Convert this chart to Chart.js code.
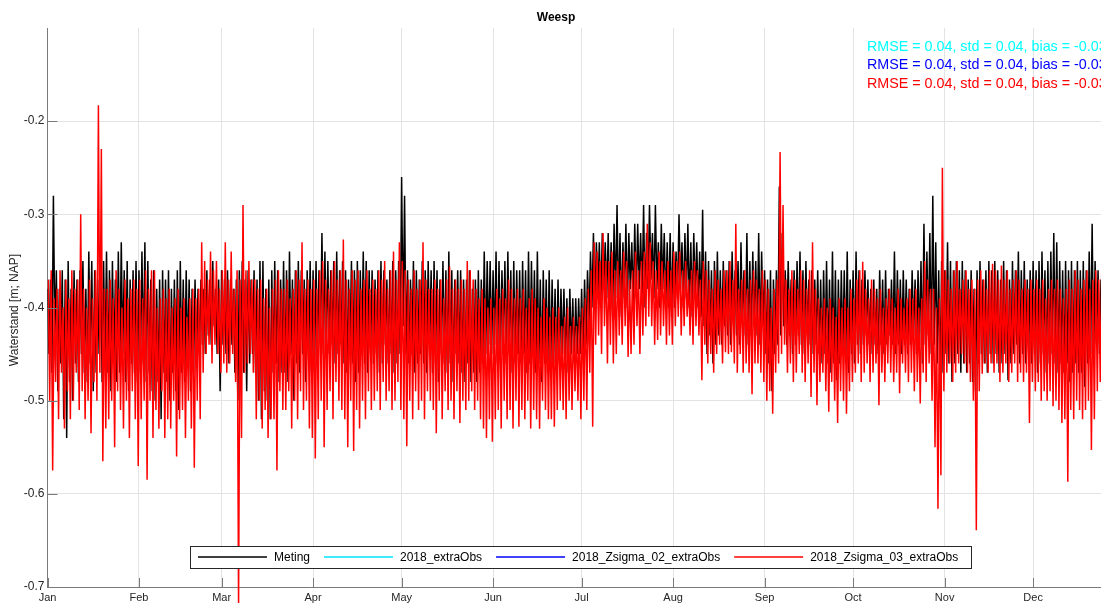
<!DOCTYPE html>
<html><head><meta charset="utf-8">
<script src="https://cdn.jsdelivr.net/npm/chart.js@4.4.1/dist/chart.umd.min.js"></script>
<style>html,body{margin:0;padding:0;background:#fff;overflow:hidden}#wrap{position:relative;width:1101px;height:603px}</style>
</head><body><div id="wrap"><canvas id="c" width="1101" height="603"></canvas></div>
<script>
// ---- axis definitions ----
const monthStartDays = [0,31,59,90,120,151,181,212,243,273,304,334];
const monthLabels = ['Jan','Feb','Mar','Apr','May','Jun','Jul','Aug','Sep','Oct','Nov','Dec'];
const yTickValues = [-0.7,-0.6,-0.5,-0.4,-0.3,-0.2];
const yTickLabels = ['-0.7','-0.6','-0.5','-0.4','-0.3','-0.2'];
const chartTitle = 'Weesp';
const yTitle = 'Waterstand [m; NAP]';
const seriesNames = ['Meting','2018_extraObs','2018_Zsigma_02_extraObs','2018_Zsigma_03_extraObs'];
const statsLines = ['RMSE = 0.04, std = 0.04, bias = -0.03','RMSE = 0.04, std = 0.04, bias = -0.03','RMSE = 0.04, std = 0.04, bias = -0.03'];

// ---- series: water level [m NAP], two samples per day (daily high / low swing), Jan 1 .. Dec 24 ----
const meting = [
-.38,-.45,-.37,-.47,-.28,-.43,-.36,-.49,-.38,-.46,-.36,-.52,-.37,-.54,-.35,-.48,-.38,-.50,-.36,-.46,
-.37,-.48,-.36,-.45,-.35,-.47,-.38,-.48,-.34,-.46,-.35,-.49,-.36,-.47,-.37,-.45,-.34,-.48,-.35,-.46,
-.34,-.47,-.36,-.49,-.35,-.46,-.37,-.48,-.34,-.47,-.33,-.45,-.36,-.48,-.35,-.49,-.37,-.46,-.36,-.47,
-.35,-.48,-.36,-.47,-.34,-.46,-.33,-.48,-.35,-.47,-.37,-.49,-.36,-.50,-.38,-.48,-.37,-.52,-.36,-.47,
-.37,-.48,-.36,-.50,-.38,-.47,-.37,-.49,-.36,-.51,-.35,-.47,-.37,-.48,-.36,-.46,-.37,-.49,-.38,-.47,
-.37,-.46,-.38,-.45,-.37,-.44,-.38,-.45,-.36,-.43,-.37,-.44,-.35,-.42,-.38,-.45,-.37,-.49,-.36,-.44,
-.37,-.45,-.36,-.46,-.37,-.44,-.38,-.47,-.37,-.50,-.36,-.46,-.35,-.47,-.37,-.49,-.36,-.46,-.37,-.45,
-.36,-.47,-.37,-.50,-.35,-.52,-.35,-.49,-.38,-.50,-.37,-.52,-.36,-.47,-.35,-.46,-.36,-.48,-.37,-.47,
-.35,-.47,-.36,-.48,-.34,-.45,-.37,-.50,-.36,-.46,-.35,-.47,-.36,-.45,-.37,-.48,-.36,-.46,-.35,-.47,
-.36,-.47,-.35,-.45,-.36,-.44,-.32,-.45,-.34,-.44,-.35,-.45,-.36,-.44,-.35,-.46,-.34,-.45,-.36,-.44,
-.35,-.46,-.36,-.47,-.37,-.45,-.35,-.46,-.36,-.48,-.35,-.47,-.36,-.45,-.34,-.46,-.35,-.47,-.36,-.45,
-.36,-.46,-.37,-.45,-.36,-.47,-.35,-.46,-.36,-.44,-.37,-.46,-.36,-.45,-.35,-.47,-.36,-.46,-.35,-.45,
-.26,-.42,-.28,-.45,-.36,-.46,-.37,-.45,-.35,-.47,-.36,-.46,-.37,-.45,-.35,-.46,-.36,-.47,-.35,-.45,
-.36,-.47,-.35,-.46,-.36,-.48,-.37,-.45,-.35,-.46,-.36,-.47,-.34,-.46,-.36,-.48,-.37,-.45,-.36,-.46,
-.36,-.47,-.37,-.48,-.37,-.46,-.36,-.48,-.38,-.47,-.37,-.48,-.36,-.47,-.37,-.46,-.34,-.45,-.35,-.44,
-.35,-.45,-.36,-.44,-.34,-.46,-.35,-.45,-.36,-.44,-.35,-.46,-.34,-.45,-.36,-.47,-.35,-.46,-.36,-.45,
-.36,-.46,-.35,-.45,-.36,-.47,-.34,-.46,-.35,-.45,-.36,-.47,-.34,-.46,-.37,-.48,-.36,-.46,-.37,-.47,
-.36,-.47,-.37,-.46,-.38,-.47,-.37,-.46,-.38,-.45,-.38,-.46,-.39,-.47,-.38,-.45,-.39,-.46,-.39,-.45,
-.39,-.45,-.38,-.45,-.37,-.44,-.36,-.42,-.34,-.40,-.32,-.40,-.33,-.39,-.33,-.40,-.32,-.38,-.33,-.39,
-.32,-.40,-.33,-.41,-.31,-.39,-.29,-.40,-.32,-.41,-.33,-.39,-.31,-.40,-.32,-.38,-.33,-.40,-.31,-.39,
-.31,-.38,-.32,-.39,-.29,-.40,-.32,-.38,-.29,-.37,-.32,-.39,-.29,-.38,-.33,-.40,-.31,-.38,-.32,-.40,
-.33,-.40,-.32,-.41,-.33,-.40,-.34,-.39,-.30,-.38,-.33,-.40,-.32,-.39,-.31,-.40,-.33,-.41,-.32,-.39,
-.33,-.40,-.34,-.41,-.295,-.42,-.34,-.45,-.35,-.43,-.36,-.46,-.35,-.44,-.34,-.43,-.36,-.44,-.35,-.42,
-.36,-.43,-.35,-.44,-.34,-.42,-.36,-.43,-.35,-.44,-.33,-.42,-.36,-.43,-.32,-.44,-.35,-.43,-.34,-.42,
-.35,-.43,-.32,-.44,-.34,-.42,-.36,-.45,-.37,-.46,-.36,-.49,-.37,-.45,-.36,-.44,-.27,-.43,-.32,-.42,
-.36,-.44,-.35,-.43,-.37,-.45,-.36,-.44,-.35,-.43,-.34,-.44,-.36,-.45,-.35,-.43,-.37,-.44,-.36,-.45,
-.37,-.44,-.36,-.45,-.37,-.46,-.36,-.45,-.35,-.46,-.37,-.47,-.34,-.46,-.36,-.478,-.37,-.46,-.36,-.45,
-.36,-.46,-.34,-.47,-.37,-.45,-.36,-.46,-.34,-.44,-.36,-.45,-.37,-.44,-.36,-.43,-.37,-.44,-.38,-.45,
-.37,-.44,-.38,-.45,-.36,-.44,-.37,-.45,-.36,-.44,-.38,-.43,-.37,-.44,-.34,-.45,-.36,-.44,-.37,-.45,
-.36,-.44,-.37,-.45,-.38,-.44,-.36,-.43,-.37,-.45,-.36,-.44,-.35,-.46,-.31,-.44,-.34,-.43,-.32,-.45,
-.28,-.44,-.33,-.46,-.36,-.48,-.35,-.47,-.36,-.45,-.33,-.46,-.35,-.48,-.36,-.46,-.35,-.45,-.36,-.47,
-.35,-.46,-.36,-.47,-.37,-.46,-.36,-.48,-.38,-.49,-.36,-.46,-.35,-.45,-.37,-.46,-.36,-.47,-.35,-.45,
-.36,-.46,-.35,-.45,-.36,-.47,-.37,-.46,-.35,-.45,-.36,-.478,-.37,-.46,-.35,-.45,-.36,-.44,-.34,-.46,
-.36,-.45,-.35,-.46,-.37,-.45,-.36,-.46,-.35,-.45,-.36,-.47,-.35,-.46,-.34,-.45,-.36,-.47,-.35,-.46,
-.34,-.45,-.32,-.46,-.33,-.47,-.35,-.46,-.36,-.47,-.35,-.46,-.36,-.48,-.35,-.47,-.36,-.46,-.35,-.47,
-.36,-.47,-.35,-.485,-.36,-.46,-.34,-.45,-.31,-.46,-.35,-.44,-.36,-.45,-.37,-.44
];
const zsigma03 = [
-.37,-.50,-.36,-.575,-.39,-.48,-.38,-.52,-.36,-.47,-.40,-.53,-.37,-.49,-.39,-.52,-.36,-.50,-.38,-.47,
-.37,-.51,-.30,-.49,-.38,-.52,-.40,-.50,-.37,-.535,-.39,-.48,-.36,-.50,-.183,-.47,-.23,-.565,-.38,-.53,
-.38,-.52,-.37,-.50,-.39,-.55,-.36,-.49,-.38,-.51,-.40,-.53,-.37,-.50,-.39,-.54,-.38,-.49,-.37,-.52,
-.38,-.57,-.37,-.52,-.39,-.50,-.36,-.585,-.38,-.50,-.36,-.54,-.36,-.51,-.40,-.53,-.39,-.49,-.38,-.54,
-.39,-.52,-.38,-.53,-.40,-.50,-.39,-.56,-.38,-.52,-.40,-.51,-.39,-.54,-.41,-.50,-.39,-.53,-.38,-.572,
-.39,-.50,-.38,-.52,-.33,-.47,-.35,-.45,-.37,-.44,-.34,-.46,-.36,-.44,-.35,-.45,-.38,-.47,-.36,-.46,
-.33,-.47,-.37,-.46,-.34,-.45,-.38,-.48,-.36,-.72,-.37,-.54,-.29,-.47,-.36,-.46,-.35,-.45,-.37,-.47,
-.37,-.52,-.38,-.50,-.37,-.53,-.39,-.51,-.38,-.54,-.40,-.52,-.38,-.52,-.37,-.575,-.36,-.49,-.38,-.51,
-.38,-.51,-.37,-.49,-.39,-.53,-.38,-.50,-.36,-.52,-.37,-.49,-.33,-.51,-.38,-.50,-.37,-.53,-.38,-.54,
-.37,-.562,-.38,-.52,-.36,-.50,-.35,-.55,-.37,-.51,-.38,-.49,-.36,-.52,-.35,-.48,-.37,-.50,-.36,-.51,
-.327,-.52,-.37,-.55,-.38,-.50,-.36,-.554,-.37,-.51,-.36,-.53,-.38,-.50,-.37,-.52,-.36,-.49,-.38,-.51,
-.37,-.50,-.38,-.49,-.36,-.51,-.37,-.48,-.35,-.50,-.38,-.49,-.36,-.51,-.34,-.50,-.37,-.48,-.33,-.51,
-.35,-.52,-.36,-.549,-.37,-.50,-.38,-.52,-.36,-.49,-.38,-.51,-.37,-.50,-.33,-.52,-.37,-.49,-.38,-.50,
-.38,-.51,-.37,-.535,-.38,-.50,-.37,-.52,-.39,-.49,-.37,-.51,-.356,-.50,-.38,-.52,-.37,-.49,-.38,-.524,
-.37,-.50,-.38,-.51,-.35,-.50,-.36,-.49,-.37,-.51,-.38,-.50,-.39,-.52,-.38,-.53,-.39,-.54,-.40,-.52,
-.39,-.544,-.40,-.52,-.38,-.51,-.39,-.53,-.38,-.50,-.39,-.52,-.37,-.51,-.38,-.53,-.39,-.50,-.38,-.528,
-.39,-.51,-.38,-.52,-.40,-.50,-.39,-.53,-.38,-.51,-.39,-.52,-.40,-.53,-.41,-.50,-.39,-.51,-.40,-.52,
-.41,-.52,-.40,-.528,-.41,-.51,-.40,-.50,-.42,-.51,-.41,-.52,-.40,-.50,-.42,-.51,-.41,-.49,-.42,-.50,
-.41,-.52,-.40,-.50,-.39,-.51,-.38,-.47,-.36,-.528,-.33,-.44,-.34,-.43,-.35,-.45,-.32,-.42,-.35,-.46,
-.35,-.44,-.34,-.46,-.36,-.45,-.35,-.43,-.36,-.44,-.34,-.42,-.35,-.453,-.37,-.45,-.36,-.44,-.34,-.42,
-.36,-.45,-.35,-.43,-.34,-.42,-.31,-.41,-.33,-.42,-.35,-.44,-.36,-.435,-.34,-.43,-.35,-.42,-.36,-.44,
-.35,-.43,-.36,-.44,-.34,-.42,-.35,-.41,-.34,-.43,-.36,-.42,-.35,-.41,-.37,-.43,-.36,-.44,-.35,-.42,
-.36,-.43,-.37,-.478,-.35,-.44,-.36,-.46,-.37,-.45,-.38,-.47,-.36,-.45,-.37,-.44,-.38,-.46,-.36,-.448,
-.36,-.45,-.35,-.448,-.37,-.46,-.31,-.47,-.38,-.45,-.37,-.47,-.36,-.46,-.38,-.47,-.37,-.493,-.36,-.46,
-.37,-.46,-.38,-.47,-.36,-.48,-.37,-.50,-.38,-.49,-.40,-.514,-.38,-.47,-.37,-.46,-.233,-.45,-.29,-.44,
-.37,-.47,-.38,-.46,-.36,-.48,-.37,-.47,-.38,-.45,-.36,-.47,-.37,-.48,-.38,-.46,-.36,-.496,-.33,-.47,
-.38,-.505,-.39,-.48,-.40,-.47,-.39,-.49,-.40,-.512,-.39,-.48,-.40,-.50,-.41,-.524,-.39,-.49,-.40,-.50,
-.39,-.514,-.40,-.49,-.38,-.48,-.39,-.47,-.37,-.46,-.36,-.48,-.351,-.47,-.38,-.46,-.39,-.48,-.37,-.47,
-.38,-.46,-.39,-.505,-.38,-.47,-.40,-.48,-.39,-.46,-.38,-.47,-.39,-.48,-.40,-.47,-.38,-.492,-.39,-.46,
-.40,-.47,-.39,-.48,-.38,-.47,-.39,-.49,-.38,-.48,-.40,-.503,-.39,-.47,-.35,-.48,-.37,-.46,-.38,-.50,
-.38,-.55,-.40,-.616,-.39,-.58,-.25,-.49,-.36,-.47,-.37,-.46,-.38,-.48,-.36,-.47,-.35,-.46,-.38,-.45,
-.37,-.46,-.36,-.47,-.38,-.48,-.37,-.50,-.38,-.639,-.37,-.49,-.36,-.471,-.37,-.46,-.38,-.47,-.36,-.46,
-.353,-.47,-.36,-.46,-.37,-.48,-.355,-.47,-.37,-.46,-.36,-.48,-.38,-.47,-.37,-.46,-.36,-.48,-.37,-.47,
-.38,-.48,-.37,-.47,-.38,-.524,-.37,-.48,-.38,-.49,-.37,-.48,-.38,-.50,-.37,-.49,-.39,-.50,-.38,-.49,
-.37,-.506,-.38,-.50,-.37,-.51,-.38,-.524,-.39,-.52,-.38,-.587,-.37,-.51,-.38,-.52,-.36,-.50,-.37,-.51,
-.38,-.52,-.37,-.51,-.36,-.50,-.38,-.553,-.37,-.52,-.36,-.49,-.37,-.48,-.36,-.47
];
// the two other model runs coincide with Zsigma_03 at this scale (fully covered by it)
const zsigma02 = zsigma03;
const extraObs = zsigma03;

const FONT = "'Liberation Sans', Arial, Helvetica, sans-serif";
// observations sampled at 0h/12h, model output at 6h/18h of each day
const toPts = (arr, offset) => arr.map((v, i) => ({ x: i / 2 + offset, y: v }));

const common = { borderWidth: 1.5, pointRadius: 0, pointHoverRadius: 0, tension: 0, fill: false, spanGaps: true };
const clipLow = { left: 0, top: 0, right: 0, bottom: 20 };

const decor = {
  id: 'decor',
  afterDraw(chart) {
    const ctx = chart.ctx, a = chart.chartArea;
    const xs = chart.scales.x, ys = chart.scales.y;
    ctx.save();
    // inward ticks
    ctx.strokeStyle = '#7a7a7a'; ctx.lineWidth = 1;
    ctx.beginPath();
    yTickValues.forEach(v => { const y = Math.round(ys.getPixelForValue(v)) + 0.5; ctx.moveTo(a.left, y); ctx.lineTo(a.left + 10, y); });
    monthStartDays.forEach(d => { const x = Math.round(xs.getPixelForValue(d)) + 0.5; ctx.moveTo(x, a.bottom); ctx.lineTo(x, a.bottom - 9); });
    ctx.stroke();
    // title
    ctx.fillStyle = '#000'; ctx.font = 'bold 12px ' + FONT;
    ctx.textAlign = 'center'; ctx.textBaseline = 'middle';
    ctx.fillText(chartTitle, 556, 18);
    // y title
    ctx.save(); ctx.translate(15, 310); ctx.rotate(-Math.PI / 2);
    ctx.fillStyle = '#262626'; ctx.font = '12px ' + FONT;
    ctx.fillText(yTitle, 0, 0); ctx.restore();
    // stats
    const statColors = ['#00ffff', '#0000ff', '#ff0000'];
    ctx.font = '14.3px ' + FONT; ctx.textAlign = 'left';
    statsLines.forEach((t, i) => { ctx.fillStyle = statColors[i]; ctx.fillText(t, 867, 47 + i * 18.5); });
    // legend
    const colors = ['#000000', '#00e5ff', '#0000ff', '#ff0000'];
    ctx.font = '12px ' + FONT;
    ctx.fillStyle = '#fff'; ctx.strokeStyle = '#262626'; ctx.lineWidth = 1;
    ctx.fillRect(190.5, 546.5, 781, 22); ctx.strokeRect(190.5, 546.5, 781, 22);
    let x = 198; const ly = 557;
    seriesNames.forEach((n, i) => {
      ctx.strokeStyle = colors[i]; ctx.lineWidth = 1.5;
      ctx.beginPath(); ctx.moveTo(x, ly); ctx.lineTo(x + 69, ly); ctx.stroke();
      x += 76;
      ctx.fillStyle = '#000'; ctx.textBaseline = 'middle'; ctx.fillText(n, x, ly + 0.5);
      x += ctx.measureText(n).width + 14;
    });
    ctx.restore();
  }
};

new Chart(document.getElementById('c'), {
  type: 'line',
  data: {
    datasets: [
      { ...common, label: seriesNames[3], data: toPts(zsigma03, 0.25), borderColor: '#ff0000', order: 0, clip: clipLow },
      { ...common, label: seriesNames[2], data: toPts(zsigma02, 0.25), borderColor: '#0000ff', order: 1, clip: clipLow, hidden: true },
      { ...common, label: seriesNames[1], data: toPts(extraObs, 0.25), borderColor: '#00ffff', order: 2, clip: clipLow, hidden: true },
      { ...common, label: seriesNames[0], data: toPts(meting, 0), borderColor: '#000000', order: 3 }
    ]
  },
  options: {
    responsive: false, animation: false, devicePixelRatio: 1, parsing: false,
    layout: { padding: { top: 28, right: 0, bottom: 0, left: 0 } },
    plugins: { legend: { display: false }, tooltip: { enabled: false }, title: { display: false } },
    events: [],
    scales: {
      x: {
        type: 'linear', min: 0, max: 357,
        afterBuildTicks: s => { s.ticks = monthStartDays.map(v => ({ value: v })); },
        afterFit: s => { s.height = 16; },
        ticks: { callback: (v, i) => monthLabels[i], autoSkip: false, maxRotation: 0, padding: 5, color: '#262626', font: { family: FONT, size: 11, lineHeight: 1.0 } },
        grid: { color: '#e3e3e3', drawTicks: false },
        border: { color: '#7a7a7a', width: 1 }
      },
      y: {
        min: -0.7, max: -0.1,
        afterBuildTicks: s => { s.ticks = yTickValues.map(v => ({ value: v })); },
        afterFit: s => { s.width = 47.5; },
        ticks: { callback: (v, i) => yTickLabels[i], padding: 3, color: '#262626', font: { family: FONT, size: 12 } },
        grid: { color: '#e3e3e3', drawTicks: false },
        border: { color: '#7a7a7a', width: 1 }
      }
    }
  },
  plugins: [decor]
});
</script>
</body></html>
